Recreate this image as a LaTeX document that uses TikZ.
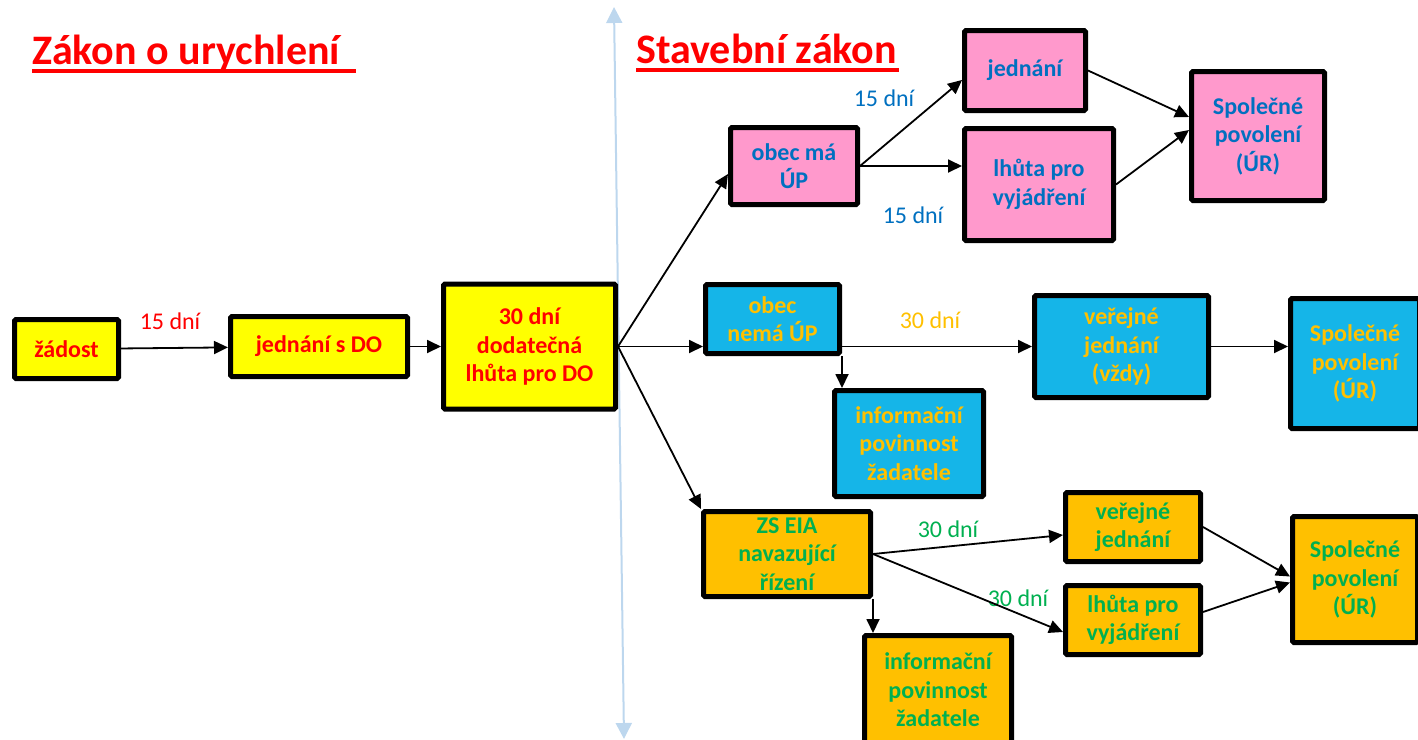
\documentclass[tikz,border=0pt]{standalone}
\usepackage{fontspec}
\setmainfont{Carlito}
\usepackage{tikz}
\usetikzlibrary{positioning,arrows.meta}
\definecolor{cervena}{HTML}{FF0000}
\definecolor{modratext}{HTML}{0070C0}
\definecolor{zluta}{HTML}{FFFF00}
\definecolor{ruzova}{HTML}{FF99CC}
\definecolor{azurova}{RGB}{21,181,232}
\definecolor{oranzova}{HTML}{FFC000}
\definecolor{zelena}{HTML}{00B050}
\definecolor{svetlemodra}{RGB}{189,215,238}
\tikzset{krabice/.style={draw=black,line width=5pt,rounded corners=1.5pt,align=center,inner sep=0pt,
        font=\bfseries\fontsize{24}{28.5}\selectfont}}
\tikzset{zlutybox/.style={krabice,fill=zluta,text=cervena}}
\tikzset{ruzovybox/.style={krabice,fill=ruzova,text=modratext}}
\tikzset{modrybox/.style={krabice,fill=azurova,text=oranzova}}
\tikzset{oranzbox/.style={krabice,fill=oranzova,text=zelena}}
\tikzset{popis/.style={inner sep=0pt,font=\fontsize{24}{28}\selectfont}}
\tikzset{nadpis/.style={inner sep=0pt,anchor=base west,text=cervena,font=\bfseries\fontsize{42}{50}\selectfont}}
\tikzset{podtrzeni/.style={draw=cervena,line width=3.5pt}}
\tikzset{hrana/.style={line width=1.8pt,-{Triangle[length=14pt,width=13pt]}}}
\tikzset{osa/.style={draw=svetlemodra,line width=2pt,{Triangle[length=16pt,width=16pt]}-{Triangle[length=16pt,width=16pt]}}}

\begin{document}
\begin{tikzpicture}[x=1pt,y=-1pt]
            \useasboundingbox (0,0) rectangle (1418,739);
            \coordinate (osaH) at (614,7);
            \coordinate (osaD) at (624,739);
            \draw[osa] (osaH) to (osaD);

            \node[nadpis] (zakonU) at (32,64) {Zákon o urychlení};
            \node[nadpis] (zakonS) at (636,63) {Stavební zákon};
            \draw[podtrzeni] ([yshift=-7pt]zakonU.base west) -- ++(324,0);
            \draw[podtrzeni] ([yshift=-7pt]zakonS.base west) -- ++(263,0);

            \node[zlutybox, minimum width=104pt, minimum height=59pt] (zadost) at (66.5,349) {žádost};
            \node[zlutybox, minimum width=177pt, minimum height=60pt, right=107pt of zadost, yshift=2.5pt] (jednaniDO) {jednání s DO};
            \node[zlutybox, minimum width=172pt, minimum height=125pt, right=31pt of jednaniDO] (lhutaDO) {30 dní\\dodatečná\\lhůta pro DO};

            \node[ruzovybox, minimum width=127pt, minimum height=77pt] (obecMa) at (794,166) {obec má\\ÚP};
            \node[ruzovybox, minimum width=121pt, minimum height=80pt] (jednaniP) at (1025,70.5) {jednání};
            \node[ruzovybox, minimum width=149pt, minimum height=112pt, below right=13pt and 0pt of jednaniP.south west] (lhutaP) {lhůta pro\\vyjádření};
            \node[ruzovybox, minimum width=133pt, minimum height=129pt] (spolP) at (1258,136) {Společné\\povolení\\(ÚR)};

            \node[modrybox, minimum width=134pt, minimum height=69pt] (obecNema) at (772.5,319) {obec\\nemá ÚP};
            \node[modrybox, minimum width=149pt, minimum height=106pt] (infoM) at (909,443.5) {informační\\povinnost\\žadatele};
            \node[modrybox, minimum width=174pt, minimum height=102pt] (verejneM) at (1121.5,346.5) {veřejné\\jednání\\(vždy)};
            \node[modrybox, minimum width=129pt, minimum height=130pt] (spolM) at (1355,363.5) {Společné\\povolení\\(ÚR)};

            \node[oranzbox, minimum width=167pt, minimum height=85pt] (eia) at (787,554) {ZS EIA\\navazující\\řízení};
            \node[oranzbox, minimum width=147pt, minimum height=109pt] (infoO) at (938,690) {informační\\povinnost\\žadatele};
            \node[oranzbox, minimum width=135pt, minimum height=69pt] (verejneO) at (1133,527) {veřejné\\jednání};
            \node[oranzbox, minimum width=135pt, minimum height=69pt, below=19pt of verejneO] (lhutaO) {lhůta pro\\vyjádření};
            \node[oranzbox, minimum width=125pt, minimum height=126pt] (spolO) at (1355,579.5) {Společné\\povolení\\(ÚR)};

            \node[popis, text=cervena] (p1) at (170,321) {15 dní};
            \node[popis, text=modratext] (p2) at (884,98) {15 dní};
            \node[popis, text=modratext] (p3) at (913,215) {15 dní};
            \node[popis, text=oranzova] (p4) at (930,320) {30 dní};
            \node[popis, text=zelena] (p5) at (948,529) {30 dní};
            \node[popis, text=zelena] (p6) at (1018,598) {30 dní};

            \draw[hrana] (zadost) to (jednaniDO);
            \draw[hrana] (jednaniDO) to (lhutaDO);
            \draw[hrana] (lhutaDO.east) to ([yshift=-8pt]obecMa.west);
            \draw[hrana] (lhutaDO.east) to (lhutaDO.east -| obecNema.west);
            \draw[hrana] (lhutaDO.east) to (eia.north west);
            \draw[hrana] (obecMa.east) to ([yshift=-9.5pt]jednaniP.west);
            \draw[hrana] (obecMa.east) to (obecMa.east -| lhutaP.west);
            \draw[hrana] (jednaniP.east) to ([yshift=19pt]spolP.west);
            \draw[hrana] (lhutaP.east) to ([yshift=6pt]spolP.west);
            \draw[hrana] (obecNema.east |- verejneM.west) to (verejneM.west);
            \draw[hrana] (obecNema.south east) to (obecNema.south east |- infoM.north);
            \draw[hrana] (verejneM.east) to (verejneM.east -| spolM.west);
            \draw[hrana] (eia.east) to ([yshift=-8pt]verejneO.west);
            \draw[hrana] (eia.east) to ([yshift=-12pt]lhutaO.west);
            \draw[hrana] (eia.south east) to (eia.south east |- infoO.north);
            \draw[hrana] (verejneO.east) to ([yshift=3pt]spolO.west);
            \draw[hrana] ([yshift=8pt]lhutaO.east) to ([yshift=-3pt]spolO.west);
        \end{tikzpicture}
\end{document}
